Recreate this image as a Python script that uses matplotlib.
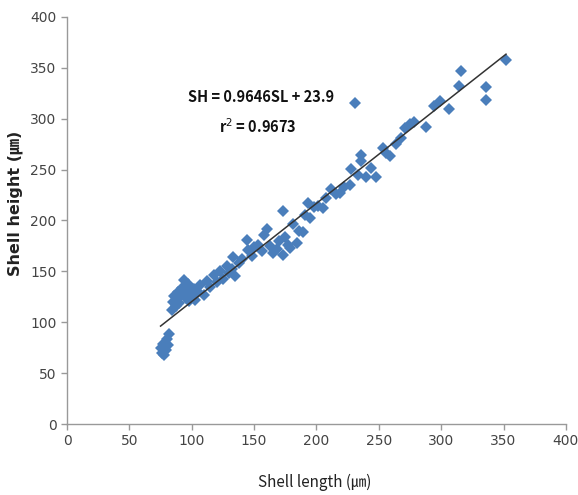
import matplotlib.pyplot as plt
import numpy as np

# data
shell_length = [75, 76, 77, 79, 80, 81, 82, 78,
                84, 85, 86, 87, 88, 89, 90, 91, 92, 94, 95, 96, 97, 98, 100, 102, 103,
                105, 107, 110, 112, 115, 118, 120, 123, 125, 128, 130, 132, 133, 135,
                138, 140, 144, 145, 148, 150, 153, 156, 158, 160, 163, 165, 168, 170,
                173, 173, 175, 177, 179, 181, 184, 186, 189, 191, 193, 195, 198, 201,
                205, 208, 212, 216, 219, 222, 227, 228, 231, 233, 236, 236, 240, 244,
                248, 253, 256, 259, 264, 268, 271, 275, 278, 288, 294, 299, 306, 314,
                316, 336, 336, 352]
shell_height = [75, 70, 79, 73, 84, 78, 88, 68,
                112, 120, 126, 116, 124, 130, 119, 127, 134, 142, 124, 130, 138, 121, 128, 133, 122,
                130, 137, 127, 141, 135, 146, 140, 150, 143, 155, 148, 152, 164, 145,
                158, 162, 181, 171, 165, 174, 176, 170, 186, 192, 175, 168, 172, 180,
                209, 166, 184, 176, 173, 197, 178, 190, 189, 205, 217, 202, 213, 214,
                212, 222, 231, 226, 227, 233, 235, 251, 315, 245, 258, 264, 243, 252,
                243, 271, 266, 263, 275, 281, 291, 295, 297, 292, 313, 317, 310, 332,
                347, 331, 318, 358]

slope = 0.9646
intercept = 23.9
r2 = 0.9673

x_ticks = [0, 50, 100, 150, 200, 250, 300, 350, 400]
y_ticks = [0, 50, 100, 150, 200, 250, 300, 350, 400]

fig = plt.figure(figsize=(5.78, 4.95), dpi=100)
ax = fig.add_axes([0.116, 0.1434, 0.863, 0.8223])

ax.plot(shell_length, shell_height, linestyle='none', marker='D', ms=6.5,
        color='#4a7ebb', markeredgewidth=0, zorder=2)

fit_x = np.array([min(shell_length), max(shell_length)])
ax.plot(fit_x, slope * fit_x + intercept, color='#333333', lw=1.1, zorder=3)

ax.set_xlim(0, 400)
ax.set_ylim(0, 400)
ax.set_xticks(x_ticks)
ax.set_yticks(y_ticks)

for side in ['top', 'right']:
    ax.spines[side].set_visible(False)
for side in ['left', 'bottom']:
    ax.spines[side].set_color('#999999')
    ax.spines[side].set_linewidth(1.0)
ax.tick_params(colors='#999999', labelcolor='#444444', labelsize=10, length=4, width=1)

fam = ['Noto Sans CJK JP', 'DejaVu Sans']
ax.set_xlabel('Shell length (\u339b)', family=fam, fontsize=11, color='#222222')
ax.set_ylabel('Shell height (\u339b)', family=['DejaVu Sans', 'Noto Sans CJK JP'],
              fontsize=11.5, fontweight='bold', color='#222222')
ax.xaxis.set_label_coords(0.497, -0.122)
ax.yaxis.set_label_coords(-0.088, 0.543)

ax.text(155.5, 321, 'SH = %.4fSL + %.1f' % (slope, intercept), family=fam,
        fontsize=10.5, fontweight='bold', ha='center', va='center', color='#111111')
ax.text(153, 292, 'r$^2$ = %.4f' % r2, family=fam,
        fontsize=10.5, fontweight='bold', ha='center', va='center', color='#111111')

fig.savefig('out.png', dpi=100)
